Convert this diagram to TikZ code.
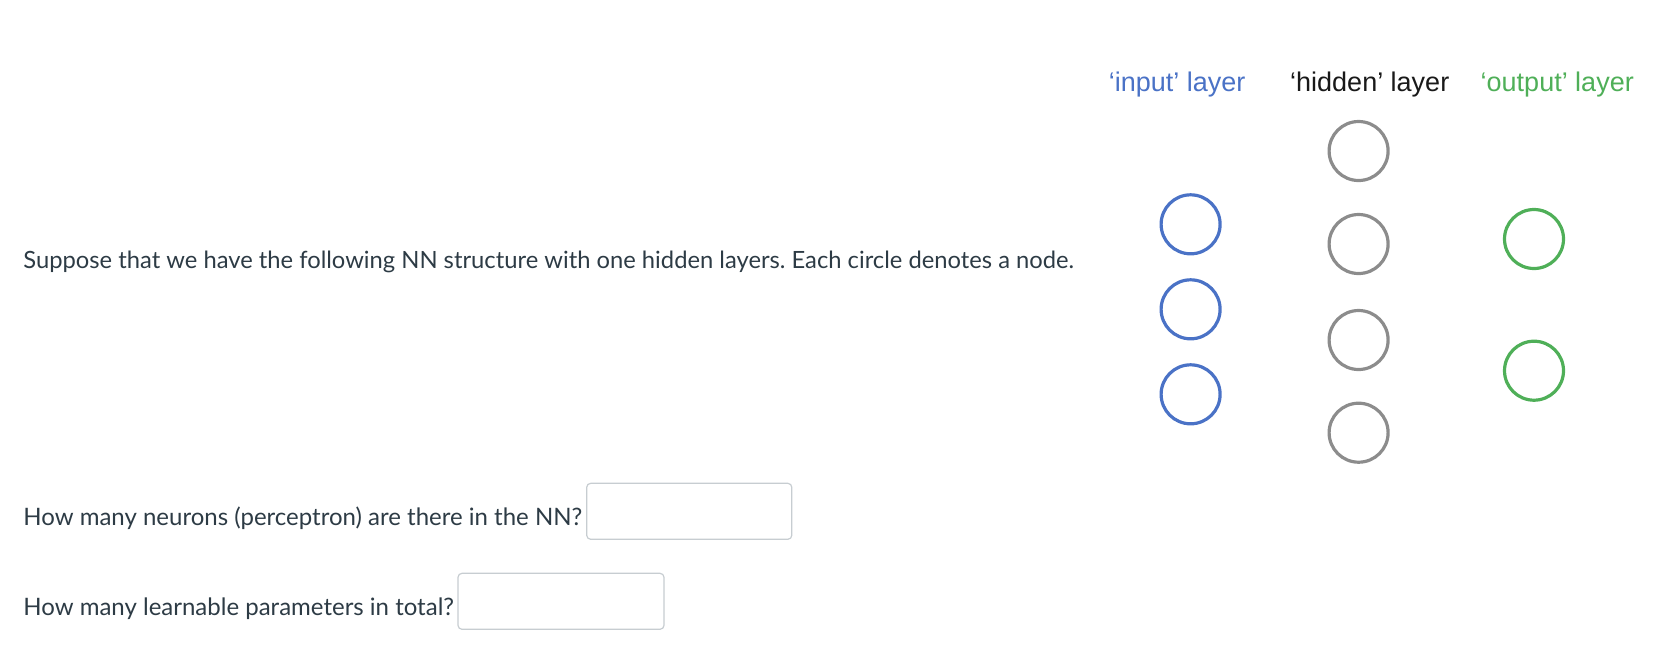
\documentclass[tikz,border=0pt]{standalone}
\usepackage{fontspec}
\setmainfont{Lato}
\newfontfamily\labelfont{Liberation Sans}
\frenchspacing
\definecolor{txt}{HTML}{2D3B45}
\definecolor{inblue}{HTML}{4A72C6}
\definecolor{hidgray}{HTML}{8C8C8C}
\definecolor{outgreen}{HTML}{4FAF58}
\definecolor{boxgray}{HTML}{C7CDD1}
\tikzset{
  px/.style={x=0.5pt,y=-0.5pt},
  neuron/.style={circle,draw,line width=1.6pt,minimum size=29.5pt,inner sep=0pt},
  inneuron/.style={neuron,draw=inblue},
  hidneuron/.style={neuron,draw=hidgray},
  outneuron/.style={neuron,draw=outgreen},
  layerlabel/.style={anchor=base west,inner sep=0pt,font=\labelfont\fontsize{13.5pt}{16pt}\selectfont},
  question/.style={anchor=base west,inner sep=0pt,text=txt,font=\fontsize{12pt}{14pt}\selectfont},
  answerbox/.style={draw=boxgray,line width=0.6pt,fill=white,rounded corners=2pt}
}
\begin{document}
\begin{tikzpicture}[px]
\useasboundingbox (0,0) rectangle (1670,650);
% layer labels
\node[layerlabel,text=inblue] (linput) at (1108.5,91.7) {‘input’ layer};
\node[layerlabel,text=black!90] (lhidden) at (1289.8,91.7) {‘hidden’ layer};
\node[layerlabel,text=outgreen] (loutput) at (1480.3,91.7) {‘output’ layer};
% input layer
\node[inneuron] (i1) at (1190.6,224.3) {};
\node[inneuron] (i2) at (1190.6,309.3) {};
\node[inneuron] (i3) at (1190.6,394.3) {};
% hidden layer
\node[hidneuron] (h1) at (1358.6,151) {};
\node[hidneuron] (h2) at (1358.6,244) {};
\node[hidneuron] (h3) at (1358.6,340) {};
\node[hidneuron] (h4) at (1358.6,432.7) {};
% output layer
\node[outneuron] (o1) at (1534,239) {};
\node[outneuron] (o2) at (1534,370.7) {};
% texts
\node[question,font=\fontsize{11.88pt}{14pt}\selectfont] (intro) at (23,268) {Suppose that we have the following NN structure with one hidden layers. Each circle denotes a node.};
\node[question] (q1) at (23,525) {How many neurons (perceptron) are there in the NN?};
\node[question] (q2) at (23,615) {How many learnable parameters in total?};
\draw[answerbox] (586.7,483.3) rectangle (791.8,539.3);
\draw[answerbox] (458,573.3) rectangle (664,629.3);
\end{tikzpicture}
\end{document}
